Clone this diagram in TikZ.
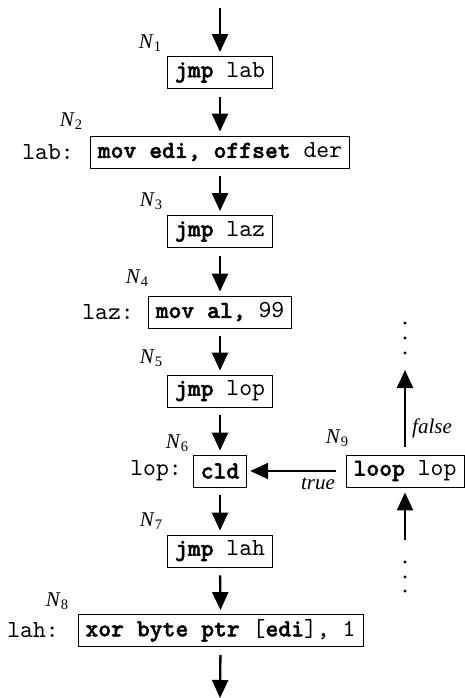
\documentclass[tikz,border=0pt]{standalone}
\usepackage{fontspec}
\setmainfont{Liberation Serif}
\setmonofont{lmmono10-regular.otf}[BoldFont=lmmonolt10-bold.otf, BoldFeatures={FakeBold=1.8}]
\usetikzlibrary{arrows.meta}
\newcommand{\NL}[1]{{\fontsize{21}{22}\selectfont\textit{N}\raisebox{-0.3ex}{\fontsize{14.5}{15}\selectfont #1}}}
\newcommand{\kw}[1]{\textbf{#1}}
\tikzset{
  instr/.style={draw, line width=0.8pt, inner xsep=7.5pt, inner ysep=0pt, minimum height=32pt,
    font=\fontsize{24.5}{26}\selectfont\ttfamily},
  lbl/.style={inner sep=0pt, anchor=east, font=\fontsize{24.5}{26}\selectfont\ttfamily},
  nlab/.style={inner sep=0pt},
  flow/.style={line width=2.3pt, -{Triangle[length=18pt,width=16pt]}},
  dotc/.style={fill=black, circle, inner sep=0pt, minimum size=3.4pt},
  edgelab/.style={inner sep=0pt, font=\fontsize{21}{22}\selectfont\itshape}
}
\begin{document}
\begin{tikzpicture}[x=1pt,y=-1pt]
\useasboundingbox (0,0) rectangle (465,698);
% boxes
\node[instr] (n1) at (220,72.5) {\kw{jmp} lab};
\node[instr] (n2) at (220,152) {\kw{mov edi, offset} der};
\node[instr] (n3) at (220,231.5) {\kw{jmp} laz};
\node[instr] (n4) at (220,312) {\kw{mov al,} 99};
\node[instr] (n5) at (220,391) {\kw{jmp} lop};
\node[instr] (n6) at (220,471) {\kw{cld}};
\node[instr] (n9) at (405,471) {\kw{loop} lop};
\node[instr] (n7) at (220,551) {\kw{jmp} lah};
\node[instr] (n8) at (220.5,630.5) {\kw{xor byte ptr} [\kw{edi}], 1};
% address labels
\node[lbl] (l2) at (74,152) {lab:};
\node[lbl] (l4) at (134,312) {laz:};
\node[lbl] (l6) at (182,471) {lop:};
\node[lbl] (l8) at (59,630.5) {lah:};
% N labels
\node[nlab] (t1) at (150,43) {\NL{1}};
\node[nlab] (t2) at (71,121) {\NL{2}};
\node[nlab] (t3) at (151,201) {\NL{3}};
\node[nlab] (t4) at (137,278) {\NL{4}};
\node[nlab] (t5) at (151,358) {\NL{5}};
\node[nlab] (t6) at (177,443) {\NL{6}};
\node[nlab] (t9) at (337,438) {\NL{9}};
\node[nlab] (t7) at (151,521) {\NL{7}};
\node[nlab] (t8) at (57,601) {\NL{8}};
% free ends
\coordinate (top) at (220,8);
\coordinate (bot) at (220,698);
\coordinate (up) at (405,370);
\coordinate (low) at (405,540);
% vertical flow
\draw[flow, shorten >=4pt] (top) -- (n1.north);
\draw[flow, shorten <=8pt, shorten >=4pt] (n1.south) -- (n2.north);
\draw[flow, shorten <=8pt, shorten >=4pt] (n2.south) -- (n3.north);
\draw[flow, shorten <=8pt, shorten >=4pt] (n3.south) -- (n4.north);
\draw[flow, shorten <=8pt, shorten >=4pt] (n4.south) -- (n5.north);
\draw[flow, shorten <=8pt, shorten >=4pt] (n5.south) -- (n6.north);
\draw[flow, shorten <=8pt, shorten >=4pt] (n6.south) -- (n7.north);
\draw[flow, shorten <=8pt, shorten >=4pt] (n7.south) -- (n8.north);
\draw[flow, shorten <=8pt] (n8.south) -- (bot);
% loop edges
\draw[flow, shorten <=10pt, shorten >=3pt] (n9.west) -- (n6.east);
\draw[flow, shorten <=8pt] (n9.north) -- (up);
\draw[flow, shorten >=5pt] (low) -- (n9.south);
\node[edgelab] (tl) at (318,484) {true};
\node[edgelab, anchor=west] (fl) at (412,428) {false};
% dots
\node[dotc] (d1) at (405,323) {};
\node[dotc] (d2) at (405,338) {};
\node[dotc] (d3) at (405,353) {};
\node[dotc] (d4) at (405,562) {};
\node[dotc] (d5) at (405,577) {};
\node[dotc] (d6) at (405,591) {};
\end{tikzpicture}
\end{document}
